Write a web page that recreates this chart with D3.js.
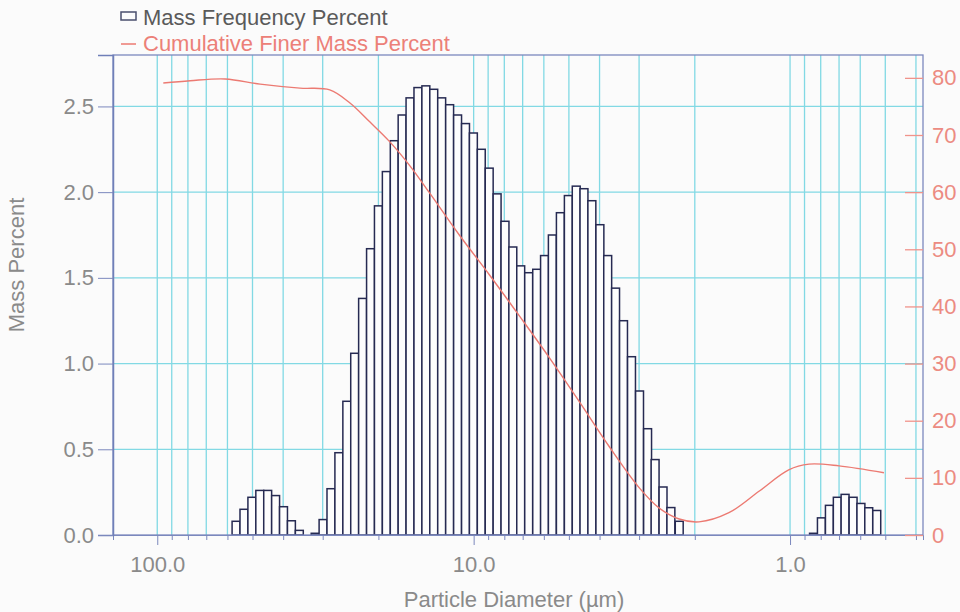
<!DOCTYPE html>
<html>
<head>
<meta charset="utf-8">
<script src="https://cdn.jsdelivr.net/npm/d3@7/dist/d3.min.js"></script>
<style>
  body { margin: 0; background: #fbfbfb; }
  text { font-family: "Liberation Sans", Arial, sans-serif; }
</style>
</head>
<body>
<div id="chart-area"></div>
<script>
const MARGIN = { LEFT: 113, RIGHT: 37, TOP: 55, BOTTOM: 77 }
const WIDTH = 960 - MARGIN.LEFT - MARGIN.RIGHT
const HEIGHT = 612 - MARGIN.TOP - MARGIN.BOTTOM

// bar centres (µm) and mass frequency (%) - three groups of the histogram
const coarseSizes = [56.36, 53.21, 50.23, 47.42, 44.77, 42.26, 39.90, 37.67, 35.56]
const coarseValues = [0.08, 0.15, 0.22, 0.26, 0.26, 0.23, 0.165, 0.083, 0.027]

const mainSizes = [31.69, 29.92, 28.25, 26.67, 25.17, 23.77, 22.44, 21.18, 20.00, 18.88,
  17.82, 16.83, 15.89, 15.00, 14.16, 13.37, 12.62, 11.91, 11.24, 10.61,
  10.02, 9.46, 8.93, 8.43, 7.96, 7.52, 7.10, 6.70, 6.32, 5.97,
  5.64, 5.32, 5.02, 4.74, 4.48, 4.23, 3.99, 3.77, 3.56, 3.36,
  3.17, 2.99, 2.82, 2.67, 2.52, 2.38, 2.24]
const mainValues = [0.01, 0.09, 0.27, 0.48, 0.78, 1.06, 1.38, 1.67, 1.92, 2.12,
  2.30, 2.45, 2.55, 2.61, 2.62, 2.60, 2.55, 2.51, 2.45, 2.40,
  2.345, 2.25, 2.14, 1.99, 1.83, 1.68, 1.57, 1.53, 1.55, 1.63,
  1.75, 1.88, 1.98, 2.035, 2.02, 1.95, 1.81, 1.63, 1.44, 1.25,
  1.04, 0.84, 0.62, 0.44, 0.28, 0.16, 0.08]

const fineSizes = [0.843, 0.796, 0.751, 0.709, 0.670, 0.632, 0.597, 0.564, 0.532]
const fineValues = [0.01, 0.10, 0.173, 0.22, 0.237, 0.22, 0.184, 0.159, 0.143]

// cumulative finer mass percent curve
const cumSizes = [95.7, 78.7, 61.0, 47.3, 35.4, 28.5, 24.6, 21.3, 18.4, 15.9, 13.8, 11.1,
  8.91, 7.16, 5.76, 4.63, 3.72, 2.99, 2.59, 2.24, 1.94, 1.56, 1.25, 1.01, 0.871, 0.700, 0.505]
const cumValues = [79.1, 79.5, 79.8, 78.9, 78.2, 77.9, 75.6, 72.3, 68.8, 64.6, 59.9, 52.5,
  45.5, 38.3, 31.0, 23.3, 15.4, 8.2, 4.7, 2.8, 2.3, 3.9, 7.7, 11.4, 12.4, 12.1, 10.9]

const majorTicks = [100, 10, 1]
const leftTicks = [0, 0.5, 1.0, 1.5, 2.0, 2.5]
const rightTicks = [0, 10, 20, 30, 40, 50, 60, 70, 80]

const BIN_RATIO = Math.pow(10, 0.0125)   // half a bin (40 bins per decade)

const svg = d3.select("#chart-area").append("svg")
  .attr("width", 960)
  .attr("height", 612)

const g = svg.append("g")
  .attr("transform", `translate(${MARGIN.LEFT}, ${MARGIN.TOP})`)

const x = d3.scaleLog()
  .domain([138, 0.38])
  .range([0, WIDTH])

const y = d3.scaleLinear()
  .domain([0, 2.8])
  .range([HEIGHT, 0])

const y2 = d3.scaleLinear()
  .domain([0, 84])
  .range([HEIGHT, 0])

const minorTicks = x.ticks()

// grid
g.append("g").selectAll("line")
  .data(minorTicks)
  .enter().append("line")
    .attr("x1", d => x(d)).attr("x2", d => x(d))
    .attr("y1", 0).attr("y2", HEIGHT)
    .attr("stroke", "#82d9e4")
    .attr("stroke-width", 1.3)

g.append("g").selectAll("line")
  .data(leftTicks.slice(1))
  .enter().append("line")
    .attr("x1", 0).attr("x2", WIDTH)
    .attr("y1", d => y(d)).attr("y2", d => y(d))
    .attr("stroke", "#82d9e4")
    .attr("stroke-width", 1.3)

// bars
const bars = []
coarseSizes.forEach((d, i) => bars.push({ size: d, value: coarseValues[i] }))
mainSizes.forEach((d, i) => bars.push({ size: d, value: mainValues[i] }))
fineSizes.forEach((d, i) => bars.push({ size: d, value: fineValues[i] }))

g.append("g").selectAll("rect")
  .data(bars)
  .enter().append("rect")
    .attr("x", d => x(d.size * BIN_RATIO))
    .attr("y", d => y(d.value))
    .attr("width", d => x(d.size / BIN_RATIO) - x(d.size * BIN_RATIO))
    .attr("height", d => HEIGHT - y(d.value))
    .attr("fill", "#fdfdfd")
    .attr("stroke", "#262a52")
    .attr("stroke-width", 1.5)

// cumulative line
const line = d3.line()
  .x((d, i) => x(cumSizes[i]))
  .y(d => y2(d))
  .curve(d3.curveCatmullRom)

g.append("path")
  .datum(cumValues)
  .attr("d", line)
  .attr("fill", "none")
  .attr("stroke", "#ec7a72")
  .attr("stroke-width", 1.4)

// frame
g.append("rect")
  .attr("width", WIDTH)
  .attr("height", HEIGHT)
  .attr("fill", "none")
  .attr("stroke", "#7b88bd")
  .attr("stroke-width", 1.3)

// X axis
const xAxisGroup = g.append("g")
  .attr("transform", `translate(0, ${HEIGHT})`)
  .call(d3.axisBottom(x)
    .tickValues(minorTicks)
    .tickSize(5)
    .tickPadding(16)
    .tickFormat(d => majorTicks.includes(d) ? d3.format(".1f")(d) : ""))

xAxisGroup.select(".domain").attr("stroke", "#7b88bd")
xAxisGroup.selectAll(".tick line")
  .attr("stroke", "#7b88bd")
  .attr("y2", d => majorTicks.includes(d) ? 10 : 5)
xAxisGroup.selectAll("text")
  .attr("font-size", "22px")
  .attr("fill", "#8a8a8a")

// Y axis
const yAxisGroup = g.append("g")
  .call(d3.axisLeft(y)
    .tickValues(leftTicks)
    .tickSize(15)
    .tickPadding(4)
    .tickFormat(d3.format(".1f")))

yAxisGroup.select(".domain").attr("stroke", "#6f7fb8").attr("stroke-width", 1.5)
yAxisGroup.selectAll(".tick line").attr("stroke", "#7b88bd")
yAxisGroup.selectAll("text")
  .attr("font-size", "22px")
  .attr("fill", "#8a8a8a")

// right axis
const y2AxisGroup = g.append("g")
  .attr("transform", `translate(${WIDTH}, 0)`)
  .call(d3.axisRight(y2)
    .tickValues(rightTicks)
    .tickSize(0)
    .tickPadding(9))

y2AxisGroup.select(".domain").remove()
y2AxisGroup.selectAll(".tick line")
  .attr("x1", -18)
  .attr("x2", 0)
  .attr("stroke", "#f0938b")
  .attr("stroke-width", 1.3)
y2AxisGroup.selectAll("text")
  .attr("font-size", "22px")
  .attr("fill", "#ec8b82")

// axis labels
g.append("text")
  .attr("x", WIDTH / 2 - 4)
  .attr("y", HEIGHT + 72)
  .attr("font-size", "22px")
  .attr("text-anchor", "middle")
  .attr("fill", "#8a8a8a")
  .text("Particle Diameter (µm)")

g.append("text")
  .attr("x", -(HEIGHT / 2) + 30)
  .attr("y", -89)
  .attr("font-size", "22px")
  .attr("text-anchor", "middle")
  .attr("transform", "rotate(-90)")
  .attr("fill", "#8a8a8a")
  .text("Mass Percent")

// legend
const legend = svg.append("g")
legend.append("rect")
  .attr("x", 121).attr("y", 12)
  .attr("width", 15).attr("height", 8)
  .attr("fill", "none")
  .attr("stroke", "#4a4f6e")
  .attr("stroke-width", 1.5)
legend.append("text")
  .attr("x", 143).attr("y", 25)
  .attr("font-size", "22px")
  .attr("fill", "#5a5a5a")
  .text("Mass Frequency Percent")
legend.append("line")
  .attr("x1", 121).attr("x2", 136)
  .attr("y1", 44).attr("y2", 44)
  .attr("stroke", "#ec7a72")
  .attr("stroke-width", 1.5)
legend.append("text")
  .attr("x", 143).attr("y", 51)
  .attr("font-size", "22px")
  .attr("fill", "#ec8078")
  .text("Cumulative Finer Mass Percent")
</script>
</body>
</html>
